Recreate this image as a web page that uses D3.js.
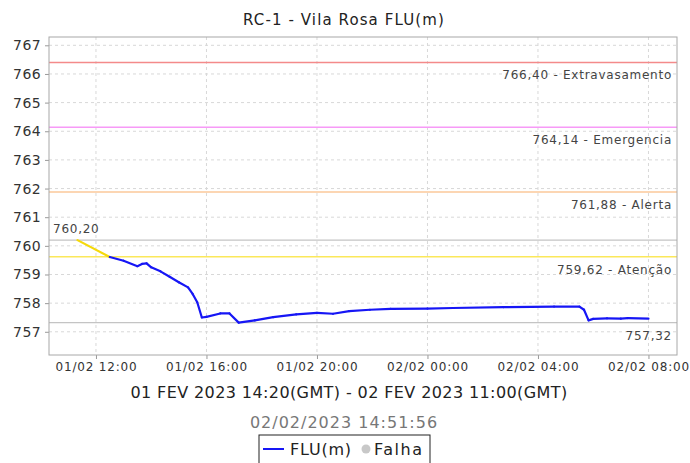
<!DOCTYPE html>
<html>
<head>
<meta charset="utf-8">
<title>RC-1 - Vila Rosa FLU(m)</title>
<script src="https://d3js.org/d3.v7.min.js"></script>
<style>
  body { margin: 0; background: #fff; }
  text { font-family: "DejaVu Sans", sans-serif; }
</style>
</head>
<body>
<div id="chart"></div>
<script>
// leituras FLU(m), hora local
var times = ["2023-02-01 11:20", "2023-02-01 12:30", "2023-02-01 13:00", "2023-02-01 13:30",
  "2023-02-01 13:40", "2023-02-01 13:50", "2023-02-01 14:00", "2023-02-01 14:20",
  "2023-02-01 14:40", "2023-02-01 15:00", "2023-02-01 15:20", "2023-02-01 15:30",
  "2023-02-01 15:40", "2023-02-01 15:50", "2023-02-01 16:00", "2023-02-01 16:30",
  "2023-02-01 16:50", "2023-02-01 17:10", "2023-02-01 17:45", "2023-02-01 18:25",
  "2023-02-01 19:15", "2023-02-01 20:00", "2023-02-01 20:35", "2023-02-01 21:10",
  "2023-02-01 21:55", "2023-02-01 22:40", "2023-02-02 00:00", "2023-02-02 00:55",
  "2023-02-02 02:45", "2023-02-02 04:35", "2023-02-02 05:30", "2023-02-02 05:40",
  "2023-02-02 05:50", "2023-02-02 06:00", "2023-02-02 06:30", "2023-02-02 07:00",
  "2023-02-02 07:15", "2023-02-02 08:00"];
var levels = [760.20, 759.61, 759.48, 759.29,
  759.37, 759.39, 759.25, 759.11,
  758.92, 758.73, 758.55, 758.32,
  758.03, 757.50, 757.52, 757.64,
  757.64, 757.32, 757.40, 757.51,
  757.61, 757.66, 757.63, 757.72,
  757.77, 757.80, 757.81, 757.83,
  757.86, 757.88, 757.88, 757.77,
  757.40, 757.45, 757.47, 757.46,
  757.48, 757.46];

var limitNames = ["Extravasamento", "Emergencia", "Alerta", "Atenção"];
var limitValues = [766.40, 764.14, 761.88, 759.62];
var limitColors = ["#f48a8a", "#f79af7", "#fbc99a", "#fbe85a"];

var xTicks = ["2023-02-01 12:00", "2023-02-01 16:00", "2023-02-01 20:00",
  "2023-02-02 00:00", "2023-02-02 04:00", "2023-02-02 08:00"];
var yTicks = [757, 758, 759, 760, 761, 762, 763, 764, 765, 766, 767];

var parse = d3.utcParse("%Y-%m-%d %H:%M");
var data = times.map(function(t, i){ return {t: parse(t), v: levels[i]}; });

var W = 690, H = 463;
var margin = {top: 37, right: 13, bottom: 108, left: 49};
var width = W - margin.left - margin.right;
var height = H - margin.top - margin.bottom;

var svg = d3.select("#chart").append("svg")
  .attr("width", W).attr("height", H);

svg.append("text")
  .attr("x", W / 2 - 1).attr("y", 25)
  .attr("text-anchor", "middle")
  .attr("font-size", 15).attr("letter-spacing", 1.1).attr("fill", "#222")
  .text("RC-1 - Vila Rosa FLU(m)");

var g = svg.append("g")
  .attr("transform", "translate(" + margin.left + "," + margin.top + ")");

var x = d3.scaleUtc()
  .domain([parse("2023-02-01 10:18"), parse("2023-02-02 09:02")])
  .range([0, width]);
var y = d3.scaleLinear().domain([756.19, 767.29]).range([height, 0]);

// grade
g.selectAll(".gy").data(yTicks).enter().append("line")
  .attr("x1", 0).attr("x2", width)
  .attr("y1", function(d){ return y(d); }).attr("y2", function(d){ return y(d); })
  .attr("stroke", "#d8d8d8").attr("stroke-dasharray", "3,3");
g.selectAll(".gx").data(xTicks).enter().append("line")
  .attr("x1", function(d){ return x(parse(d)); }).attr("x2", function(d){ return x(parse(d)); })
  .attr("y1", 0).attr("y2", height)
  .attr("stroke", "#d8d8d8").attr("stroke-dasharray", "3,3");

// eixos
var yAxis = g.append("g")
  .call(d3.axisLeft(y).tickValues(yTicks).tickSize(4).tickPadding(4).tickFormat(d3.format("d")));
var xAxis = g.append("g")
  .attr("transform", "translate(0," + height + ")")
  .call(d3.axisBottom(x).tickValues(xTicks.map(parse)).tickSize(4).tickPadding(3)
    .tickFormat(d3.utcFormat("%d/%m %H:%M")));
[yAxis, xAxis].forEach(function(a){
  a.select(".domain").remove();
  a.selectAll(".tick line").attr("stroke", "#999");
  a.selectAll("text").attr("fill", "#333").style("font-family", "DejaVu Sans, sans-serif");
});
yAxis.selectAll("text").attr("font-size", 14).attr("letter-spacing", 0.4);
xAxis.selectAll("text").attr("font-size", 12).attr("letter-spacing", 0.8);

// linhas de limite
limitValues.forEach(function(v, i){
  g.append("line")
    .attr("x1", 0).attr("x2", width)
    .attr("y1", y(v)).attr("y2", y(v))
    .attr("stroke", limitColors[i]).attr("stroke-width", 1.3);
  g.append("text")
    .attr("x", width - 5).attr("y", y(v) + 17)
    .attr("text-anchor", "end")
    .attr("font-size", 12).attr("letter-spacing", 0.75).attr("fill", "#444")
    .text(d3.format(".2f")(v).replace(".", ",") + " - " + limitNames[i]);
});

// max / min
var vmax = d3.max(levels), vmin = d3.min(levels);
g.append("line").attr("x1", 0).attr("x2", width)
  .attr("y1", y(vmax)).attr("y2", y(vmax)).attr("stroke", "#c4c4c4").attr("stroke-width", 1.3);
g.append("line").attr("x1", 0).attr("x2", width)
  .attr("y1", y(vmin)).attr("y2", y(vmin)).attr("stroke", "#c4c4c4").attr("stroke-width", 1.3);
g.append("text").attr("x", 4).attr("y", y(vmax) - 7)
  .attr("font-size", 12).attr("letter-spacing", 0.75).attr("fill", "#444")
  .text(d3.format(".2f")(vmax).replace(".", ","));
g.append("text").attr("x", width - 5).attr("y", y(vmin) + 17)
  .attr("text-anchor", "end")
  .attr("font-size", 12).attr("letter-spacing", 0.75).attr("fill", "#444")
  .text(d3.format(".2f")(vmin).replace(".", ","));

// serie, segmentos acima da atenção em amarelo
for (var i = 0; i < data.length - 1; i++) {
  var a = data[i], b = data[i + 1];
  g.append("line")
    .attr("x1", x(a.t)).attr("y1", y(a.v))
    .attr("x2", x(b.t)).attr("y2", y(b.v))
    .attr("stroke", a.v > limitValues[3] ? "#f5d90a" : "#1616f5")
    .attr("stroke-width", 2.2).attr("stroke-linecap", "round");
}

// borda
g.append("rect").attr("width", width).attr("height", height)
  .attr("fill", "none").attr("stroke", "#a8a8a8");

svg.append("text")
  .attr("x", 349).attr("y", 398)
  .attr("text-anchor", "middle").attr("font-size", 16).attr("letter-spacing", 0.4).attr("fill", "#222")
  .text("01 FEV 2023 14:20(GMT) - 02 FEV 2023 11:00(GMT)");

svg.append("text")
  .attr("x", 344).attr("y", 428)
  .attr("text-anchor", "middle").attr("font-size", 16).attr("letter-spacing", 1).attr("fill", "#777")
  .text("02/02/2023 14:51:56");

// legenda
var lg = svg.append("g").attr("transform", "translate(259,435)");
lg.append("rect").attr("width", 171).attr("height", 34)
  .attr("fill", "#fff").attr("stroke", "#222");
lg.append("line").attr("x1", 4).attr("x2", 25).attr("y1", 14).attr("y2", 14)
  .attr("stroke", "#1616f5").attr("stroke-width", 2);
lg.append("text").attr("x", 31).attr("y", 20).attr("font-size", 16).attr("letter-spacing", 0.8).attr("fill", "#222").text("FLU(m)");
lg.append("circle").attr("cx", 107).attr("cy", 14).attr("r", 4.5).attr("fill", "#c8c8c8");
lg.append("text").attr("x", 115).attr("y", 20).attr("font-size", 16).attr("letter-spacing", 1.5).attr("fill", "#222").text("Falha");
</script>
</body>
</html>
